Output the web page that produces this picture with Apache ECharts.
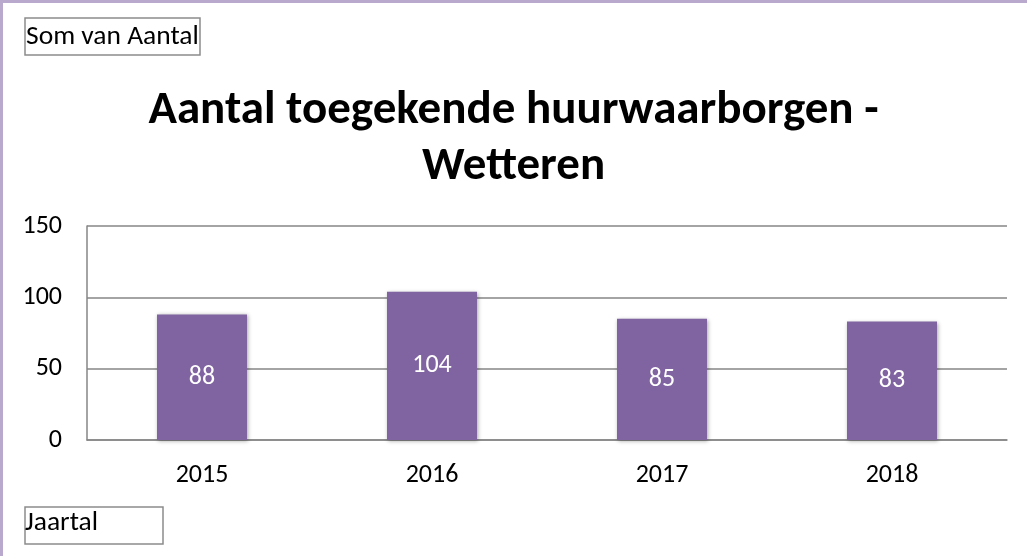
<!DOCTYPE html>
<html>
<head>
<meta charset="utf-8">
<script src="https://cdn.jsdelivr.net/npm/echarts@6/dist/echarts.min.js"></script>
<style>
    html, body { margin: 0; padding: 0; background: #fff; }
    #chart { width: 1027px; height: 556px; }
</style>
</head>
<body>
<div id="chart"></div>
<script>
// gegevens
const years = ['2015', '2016', '2017', '2018']
const aantal = [88, 104, 85, 83]
const yTicks = [0, 50, 100, 150]

const fontFam = 'Carlito, Lato, "Noto Sans", sans-serif'

const chart = echarts.init(document.getElementById('chart'))

const option = {
    animation: false,
    backgroundColor: '#fff',
    title: {
        text: 'Aantal toegekende huurwaarborgen -\nWetteren',
        left: 'center',
        top: 78,
        textStyle: {
            fontFamily: fontFam,
            fontSize: 47,
            fontWeight: 'bold',
            color: '#000',
            lineHeight: 56
        }
    },
    grid: {
        left: 87,
        right: 20,
        top: 226,
        bottom: 116
    },
    xAxis: {
        type: 'category',
        data: years,
        axisLine: { lineStyle: { color: '#868686', width: 1.5 } },
        axisTick: { show: false },
        axisLabel: {
            margin: 22,
            fontFamily: fontFam,
            fontSize: 26,
            color: '#000'
        }
    },
    yAxis: {
        type: 'value',
        min: yTicks[0],
        max: yTicks[yTicks.length - 1],
        interval: yTicks[1] - yTicks[0],
        axisLine: { show: true, lineStyle: { color: '#868686', width: 1.5 } },
        axisTick: { show: false },
        splitLine: { lineStyle: { color: '#868686', width: 1.5 } },
        axisLabel: {
            margin: 25,
            fontFamily: fontFam,
            fontSize: 26,
            color: '#000'
        }
    },
    series: [{
        name: 'Som van Aantal',
        type: 'bar',
        data: aantal,
        barWidth: 90,
        itemStyle: {
            color: '#8064A2',
            shadowBlur: 4,
            shadowColor: 'rgba(0, 0, 0, 0.35)',
            shadowOffsetX: 1,
            shadowOffsetY: 1
        },
        label: {
            show: true,
            position: 'inside',
            fontFamily: fontFam,
            fontSize: 26,
            color: '#fff'
        }
    }],
    graphic: [
        // kader boven en links
        { type: 'rect', shape: { x: 0, y: 0, width: 1027, height: 3 }, style: { fill: '#b9a9cc' } },
        { type: 'rect', shape: { x: 0, y: 0, width: 3, height: 556 }, style: { fill: '#b9a9cc' } },
        // veldknoppen
        { type: 'rect', shape: { x: 25, y: 18, width: 175, height: 37 }, style: { fill: '#fff', stroke: '#8c8c8c', lineWidth: 1.5 } },
        { type: 'text', left: 26, top: 23, style: { text: 'Som van Aantal', fontFamily: fontFam, fontSize: 27.5, fill: '#000' } },
        { type: 'rect', shape: { x: 25, y: 507, width: 138, height: 37 }, style: { fill: '#fff', stroke: '#8c8c8c', lineWidth: 1.5 } },
        { type: 'text', left: 25, top: 509, style: { text: 'Jaartal', fontFamily: fontFam, fontSize: 27.5, fill: '#000' } }
    ]
}

chart.setOption(option)
</script>
</body>
</html>
